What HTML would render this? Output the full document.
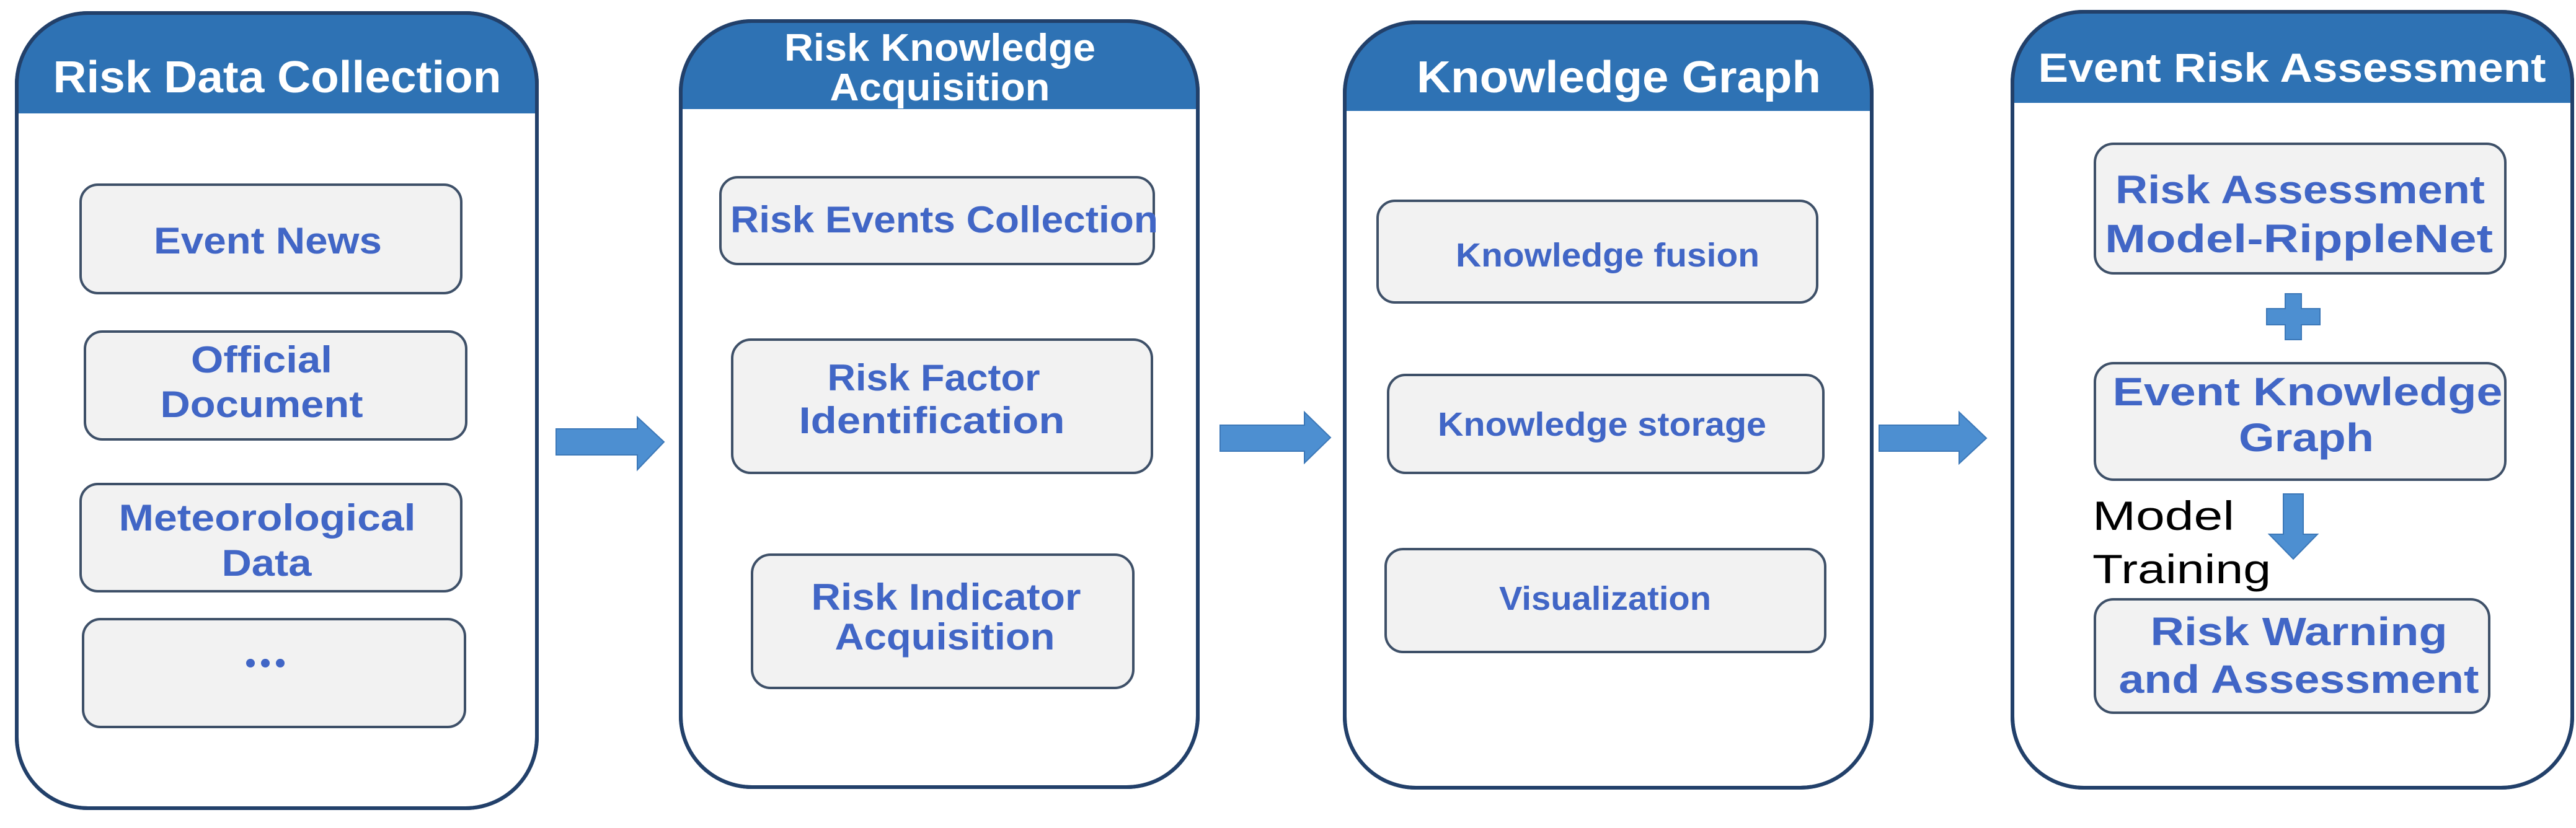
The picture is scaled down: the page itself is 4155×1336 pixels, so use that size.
<!DOCTYPE html>
<html><head><meta charset="utf-8"><style>html,body{margin:0;padding:0;background:#fff}svg{display:block}</style></head>
<body>
<svg width="4155" height="1336" viewBox="0 0 4155 1336" xmlns="http://www.w3.org/2000/svg" font-family="'Liberation Sans', sans-serif">
<defs>
<clipPath id="c1"><rect x="27" y="21" width="839" height="1283" rx="115"/></clipPath>
<clipPath id="c2"><rect x="1098" y="34" width="834" height="1236" rx="115"/></clipPath>
<clipPath id="c3"><rect x="2169" y="36" width="850" height="1235" rx="115"/></clipPath>
<clipPath id="c4"><rect x="3246" y="19" width="903" height="1252" rx="115"/></clipPath>
</defs>
<g stroke="#22406a" stroke-width="6">
<rect x="27" y="21" width="839" height="1283" rx="115" fill="#fff"/>
<rect x="1098" y="34" width="834" height="1236" rx="115" fill="#fff"/>
<rect x="2169" y="36" width="850" height="1235" rx="115" fill="#fff"/>
<rect x="3246" y="19" width="903" height="1252" rx="115" fill="#fff"/>
</g>
<g fill="#2e72b4">
<rect x="0" y="0" width="900" height="183" clip-path="url(#c1)"/>
<rect x="1090" y="0" width="860" height="176" clip-path="url(#c2)"/>
<rect x="2160" y="0" width="870" height="179" clip-path="url(#c3)"/>
<rect x="3240" y="0" width="915" height="166" clip-path="url(#c4)"/>
</g>
<g fill="none" stroke="#22406a" stroke-width="6">
<rect x="27" y="21" width="839" height="1283" rx="115"/>
<rect x="1098" y="34" width="834" height="1236" rx="115"/>
<rect x="2169" y="36" width="850" height="1235" rx="115"/>
<rect x="3246" y="19" width="903" height="1252" rx="115"/>
</g>
<g fill="#fff" font-weight="bold" text-anchor="middle" font-size="72">
<text x="447" y="149" textLength="723" lengthAdjust="spacingAndGlyphs">Risk Data Collection</text>
<text x="1516" y="98" font-size="62" textLength="502" lengthAdjust="spacingAndGlyphs">Risk Knowledge</text>
<text x="1516" y="162" font-size="62" textLength="355" lengthAdjust="spacingAndGlyphs">Acquisition</text>
<text x="2611" y="149" textLength="652" lengthAdjust="spacingAndGlyphs">Knowledge Graph</text>
<text x="3697" y="132" font-size="66" textLength="819" lengthAdjust="spacingAndGlyphs">Event Risk Assessment</text>
</g>
<g fill="#f2f2f2" stroke="#3e5068" stroke-width="4">
<rect x="130" y="298" width="614" height="175" rx="28"/>
<rect x="137" y="535" width="615" height="174" rx="28"/>
<rect x="130" y="781" width="614" height="173" rx="28"/>
<rect x="134" y="999" width="616" height="174" rx="28"/>
<rect x="1162" y="286" width="699" height="140" rx="28"/>
<rect x="1181" y="548" width="677" height="215" rx="30"/>
<rect x="1213" y="895" width="615" height="215" rx="30"/>
<rect x="2222" y="324" width="709" height="164" rx="28"/>
<rect x="2239" y="605" width="702" height="158" rx="28"/>
<rect x="2235" y="886" width="709" height="166" rx="28"/>
<rect x="3379" y="232" width="662" height="209" rx="30"/>
<rect x="3379" y="586" width="662" height="188" rx="30"/>
<rect x="3379" y="967" width="636" height="183" rx="30"/>
</g>
<g fill="#4166c6" font-weight="bold" text-anchor="middle" font-size="60">
<text x="432" y="409" textLength="368" lengthAdjust="spacingAndGlyphs">Event News</text>
<text x="422" y="601" textLength="228" lengthAdjust="spacingAndGlyphs">Official</text>
<text x="422" y="673" textLength="327" lengthAdjust="spacingAndGlyphs">Document</text>
<text x="431" y="856" textLength="479" lengthAdjust="spacingAndGlyphs">Meteorological</text>
<text x="430" y="929" textLength="145" lengthAdjust="spacingAndGlyphs">Data</text>
<text x="1523" y="375" textLength="690" lengthAdjust="spacingAndGlyphs">Risk Events Collection</text>
<text x="1506" y="630" textLength="343" lengthAdjust="spacingAndGlyphs">Risk Factor</text>
<text x="1503" y="699" textLength="429" lengthAdjust="spacingAndGlyphs">Identification</text>
<text x="1526" y="984" textLength="435" lengthAdjust="spacingAndGlyphs">Risk Indicator</text>
<text x="1524" y="1048" textLength="355" lengthAdjust="spacingAndGlyphs">Acquisition</text>
<text x="2593" y="430" font-size="54" textLength="490" lengthAdjust="spacingAndGlyphs">Knowledge fusion</text>
<text x="2584" y="703" font-size="54" textLength="530" lengthAdjust="spacingAndGlyphs">Knowledge storage</text>
<text x="2589" y="984" font-size="54" textLength="342" lengthAdjust="spacingAndGlyphs">Visualization</text>
<text x="3710" y="328" font-size="64" textLength="596" lengthAdjust="spacingAndGlyphs">Risk Assessment</text>
<text x="3708" y="407" font-size="64" textLength="626" lengthAdjust="spacingAndGlyphs">Model-RippleNet</text>
<text x="3722" y="654" font-size="64" textLength="629" lengthAdjust="spacingAndGlyphs">Event Knowledge</text>
<text x="3720" y="728" font-size="64" textLength="218" lengthAdjust="spacingAndGlyphs">Graph</text>
<text x="3708" y="1041" font-size="64" textLength="479" lengthAdjust="spacingAndGlyphs">Risk Warning</text>
<text x="3708" y="1118" font-size="64" textLength="581" lengthAdjust="spacingAndGlyphs">and Assessment</text>
</g>
<g fill="#4166c6"><circle cx="404" cy="1070" r="7"/><circle cx="428" cy="1070" r="7"/><circle cx="452" cy="1070" r="7"/></g>
<g fill="#000" font-size="66">
<text x="3375" y="855" textLength="229" lengthAdjust="spacingAndGlyphs">Model</text>
<text x="3375" y="941" textLength="288" lengthAdjust="spacingAndGlyphs">Training</text>
</g>
<g fill="#4d8fd1" stroke="#3c78b8" stroke-width="2">
<polygon points="897,692 1028,692 1028,673 1071,713 1028,758 1028,734 897,734"/>
<polygon points="1968,686 2104,686 2104,665 2146,706 2104,747 2104,728 1968,728"/>
<polygon points="3031,686 3160,686 3160,665 3204,707 3160,748 3160,728 3031,728"/>
<polygon points="3683,797 3715,797 3715,862 3738,862 3699,902 3660,862 3683,862"/>
<polygon points="3686,474 3712,474 3712,498 3742,498 3742,524 3712,524 3712,548 3686,548 3686,524 3656,524 3656,498 3686,498"/>
</g>
</svg>
</body></html>
